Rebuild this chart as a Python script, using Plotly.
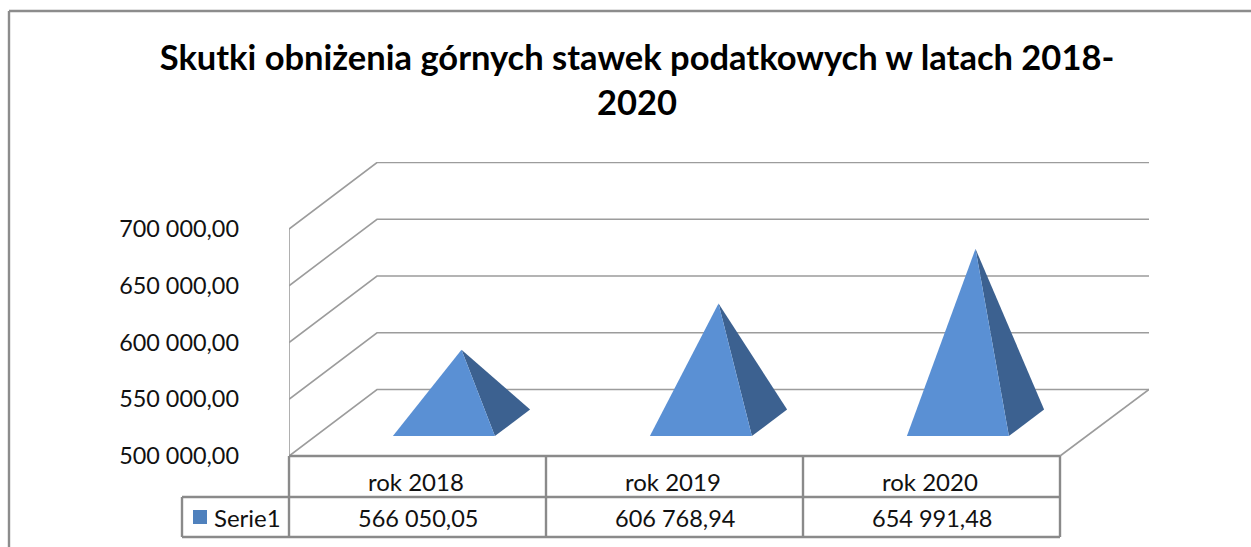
import plotly.graph_objects as go

# ---- data ----
categories = ["rok 2018", "rok 2019", "rok 2020"]
values = [566050.05, 606768.94, 654991.48]
value_labels = ["566 050,05", "606 768,94", "654 991,48"]
series_name = "Serie1"
tick_values = [500000, 550000, 600000, 650000, 700000]
tick_labels = ["500 000,00", "550 000,00", "600 000,00", "650 000,00", "700 000,00"]
title_text = "Skutki obniżenia górnych stawek podatkowych w latach 2018-<br>2020"

# ---- layout constants ----
W, H = 1251, 547
L, T = 289, 162          # plot area left / top in pixels
CAT_W = 257              # pixel width of a category
FONT = "Lato"
GRID = "#9c9c9c"
TABLE = "#8a8a8a"
FRONT = "#5a90d4"
SIDE = "#3c6190"

PX_PER_VAL = 227 / 200000
DEPTH_VAL = 66.5 / PX_PER_VAL     # wall depth in value units
DEPTH_X = 88 / CAT_W              # wall depth in category units
BAR_W = 102 / CAT_W
FRONT_D, BACK_D = 0.30, 0.70
APEX_D = 0.47

y_bottom = 500000 - (H - 456) / PX_PER_VAL
y_top = 500000 + (456 - T) / PX_PER_VAL
x_right = (1149 - L) / CAT_W

fig = go.Figure()

def line(xs, ys, color=GRID, width=1.6):
    fig.add_trace(go.Scatter(x=xs, y=ys, mode="lines", line=dict(color=color, width=width),
                             hoverinfo="skip", showlegend=False))

n = len(categories)
# walls: one left-wall diagonal and one back-wall line for every tick
for t in tick_values:
    line([0, DEPTH_X, x_right], [t, t + DEPTH_VAL, t + DEPTH_VAL])
# axis and floor
line([0, 0], [tick_values[0], tick_values[-1]])
line([n, x_right], [tick_values[0], tick_values[0] + DEPTH_VAL])

# pyramids
for i, v in enumerate(values):
    c = i + 0.5
    xl = c - BAR_W / 2 + FRONT_D * DEPTH_X
    xr = c + BAR_W / 2 + FRONT_D * DEPTH_X
    yf = tick_values[0] + FRONT_D * DEPTH_VAL
    xb = c + BAR_W / 2 + BACK_D * DEPTH_X
    yb = tick_values[0] + BACK_D * DEPTH_VAL
    ax = c + (FRONT_D + BACK_D) / 2 * DEPTH_X
    ay = v + APEX_D * DEPTH_VAL
    fig.add_trace(go.Scatter(x=[xr, xb, ax, xr], y=[yf, yb, ay, yf], mode="lines", fill="toself",
                             fillcolor=SIDE, line=dict(width=0, color=SIDE), hoverinfo="skip", showlegend=False))
    fig.add_trace(go.Scatter(x=[xl, xr, ax, xl], y=[yf, yf, ay, yf], mode="lines", fill="toself",
                             fillcolor=FRONT, line=dict(width=0, color=FRONT), name=series_name,
                             hovertemplate=f"{categories[i]}: {value_labels[i]}<extra></extra>", showlegend=False))

# ---- pixel helpers for the frame and the data table ----
pw = x_right * CAT_W
ph = H - T
def px(x): return (x - L) / pw
def py(y): return 1 - (y - T) / ph

shapes = []
def seg(x0, y0, x1, y1, color=TABLE, width=2.4):
    shapes.append(dict(type="line", xref="paper", yref="paper", x0=px(x0), y0=py(y0), x1=px(x1), y1=py(y1),
                       line=dict(color=color, width=width)))

# chart frame
seg(9, 11, 1251, 11, "#8c8c8c", 2.4)
seg(9, 11, 9, 547, "#8c8c8c", 2.4)
# data table
seg(289, 456, 1060, 456)
seg(182, 497, 1060, 497)
seg(182, 537, 1060, 537)
seg(182, 497, 182, 537)
for k in range(n + 1):
    seg(L + k * CAT_W, 456, L + k * CAT_W, 537)
# legend key
shapes.append(dict(type="rect", xref="paper", yref="paper", x0=px(193), x1=px(207), y0=py(510), y1=py(524),
                   fillcolor="#4f81bd", line=dict(width=0)))

ann = []
def label(x, y, text, anchor="center", size=23):
    ann.append(dict(x=px(x), y=py(y), xref="paper", yref="paper", text=text, xanchor=anchor, yanchor="middle",
                    showarrow=False, font=dict(family=FONT, size=size, color="#111")))
for i in range(n):
    label(L + (i + 0.5) * CAT_W - 1.5, 481, categories[i], size=24)
    label(L + (i + 0.5) * CAT_W, 518, value_labels[i], size=23.5)
label(212, 517, series_name, "left", size=24)

fig.update_layout(
    width=W, height=H, autosize=False,
    margin=dict(l=L, r=W - 1149, t=T, b=0, pad=0),
    paper_bgcolor="white", plot_bgcolor="white", showlegend=False,
    title=dict(text=title_text, x=637 / W, xanchor="center", y=1 - 70 / H, yanchor="middle",
               font=dict(family=FONT, size=34.5, color="#000", weight="bold")),
    xaxis=dict(range=[0, x_right], visible=False, fixedrange=True),
    yaxis=dict(range=[y_bottom, y_top], tickmode="array", tickvals=tick_values, ticktext=tick_labels,
               showgrid=False, zeroline=False, showline=False, ticks="", ticklabelstandoff=49,
               tickfont=dict(family=FONT, size=23.4, color="#111"), fixedrange=True),
    shapes=shapes, annotations=ann,
)

fig.write_html("out.html", config=dict(displayModeBar=False),
               post_script="document.body.style.margin='0';document.body.style.overflow='hidden';")
